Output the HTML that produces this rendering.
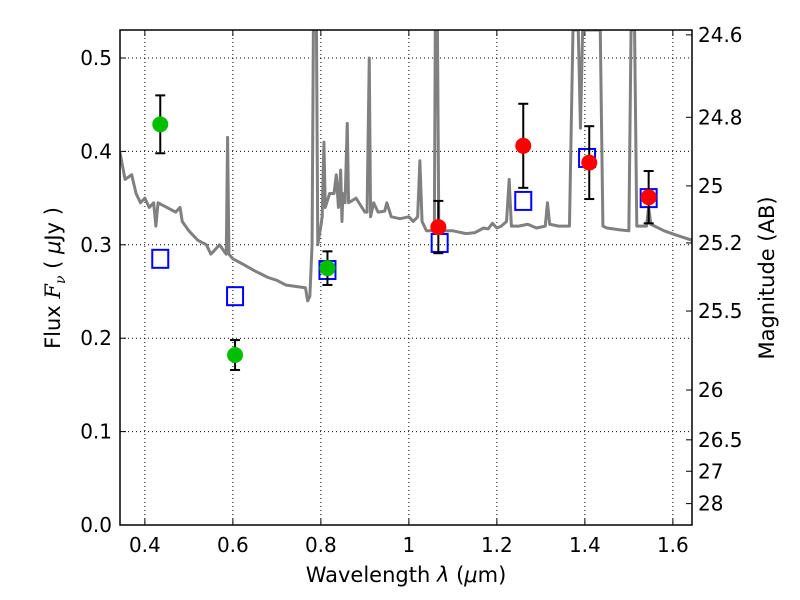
<!DOCTYPE html>
<html><head><meta charset="utf-8"><style>body{margin:0;background:#fff}svg{display:block;font-family:"DejaVu Sans","Liberation Sans",sans-serif}</style></head>
<body>
<svg id="c" width="800" height="600"></svg>
<script>
const specLam=[0.343,0.355,0.37,0.38,0.39,0.40,0.41,0.42,0.425,0.43,0.45,0.47,0.48,0.485,0.50,0.52,0.54,0.55,0.57,0.58,0.585,0.588,0.591,0.60,0.62,0.65,0.68,0.70,0.72,0.75,0.765,0.77,0.775,0.78,0.783,0.79,0.793,0.80,0.803,0.807,0.81,0.82,0.83,0.835,0.84,0.845,0.848,0.85,0.855,0.86,0.863,0.88,0.90,0.905,0.91,0.913,0.92,0.93,0.945,0.95,0.96,0.98,1.0,1.01,1.02,1.025,1.03,1.04,1.05,1.058,1.06,1.065,1.068,1.08,1.10,1.13,1.15,1.17,1.18,1.19,1.2,1.21,1.222,1.228,1.233,1.25,1.27,1.29,1.31,1.315,1.32,1.34,1.365,1.373,1.385,1.39,1.395,1.435,1.441,1.45,1.48,1.50,1.505,1.513,1.518,1.54,1.545,1.55,1.58,1.61,1.643];
const specFlux=[0.40,0.37,0.375,0.355,0.345,0.35,0.34,0.345,0.32,0.345,0.34,0.335,0.34,0.325,0.315,0.305,0.30,0.29,0.30,0.293,0.29,0.415,0.29,0.285,0.28,0.272,0.265,0.262,0.257,0.255,0.254,0.24,0.245,0.30,0.53,0.53,0.30,0.32,0.33,0.41,0.34,0.355,0.355,0.375,0.34,0.38,0.325,0.355,0.345,0.43,0.345,0.35,0.335,0.335,0.50,0.33,0.345,0.335,0.336,0.345,0.33,0.328,0.33,0.325,0.33,0.39,0.325,0.315,0.315,0.32,0.53,0.53,0.32,0.315,0.315,0.312,0.313,0.318,0.317,0.323,0.318,0.32,0.325,0.37,0.32,0.32,0.322,0.318,0.32,0.345,0.322,0.32,0.32,0.53,0.53,0.425,0.53,0.53,0.32,0.318,0.316,0.315,0.53,0.53,0.32,0.32,0.34,0.322,0.315,0.31,0.305];
const greenLam=[0.435,0.605,0.815], greenFlux=[0.429,0.182,0.275], greenErr=[0.031,0.016,0.018];
const redLam=[1.067,1.26,1.41,1.545], redFlux=[0.319,0.406,0.388,0.351], redErr=[0.028,0.045,0.039,0.028];
const sqLam=[0.435,0.605,0.815,1.07,1.26,1.405,1.545], sqFlux=[0.285,0.245,0.273,0.302,0.347,0.393,0.350];
const xTicks=[0.4,0.6,0.8,1.0,1.2,1.4,1.6], xLabels=["0.4","0.6","0.8","1","1.2","1.4","1.6"];
const yTicks=[0,0.1,0.2,0.3,0.4,0.5], yLabels=["0.0","0.1","0.2","0.3","0.4","0.5"];
const magTicks=[24.6,24.8,25,25.2,25.5,26,26.5,27,28];
const L=120,R=692,T=30,B=525,X0=0.3435,X1=1.6435,Y0=0,Y1=0.53;
const sx=v=>L+(v-X0)/(X1-X0)*(R-L), sy=v=>B-(v-Y0)/(Y1-Y0)*(B-T);
const svg=document.getElementById('c'),NS='http://www.w3.org/2000/svg';
function mk(t,a,p){const e=document.createElementNS(NS,t);for(const k in a)e.setAttribute(k,a[k]);(p||svg).appendChild(e);return e;}
mk('defs',{}).innerHTML='<clipPath id="cp"><rect x="120" y="30" width="572" height="495"/></clipPath>';
xTicks.forEach((v,i)=>{const x=sx(v);
 const g=mk('line',{x1:x,x2:x,y1:T,y2:B,stroke:'#000','stroke-dasharray':'1,3','stroke-width':1});
 mk('line',{x1:x,x2:x,y1:B,y2:B-6,stroke:'#000'});mk('line',{x1:x,x2:x,y1:T,y2:T+6,stroke:'#000'});
 const t=mk('text',{x:x,y:B+27,'font-size':20,'text-anchor':'middle'});t.textContent=xLabels[i];});
yTicks.forEach((v,i)=>{const y=sy(v);
 const g=mk('line',{x1:L,x2:R,y1:y,y2:y,stroke:'#000','stroke-dasharray':'1,3','stroke-width':1});
 mk('line',{x1:L,x2:L+6,y1:y,y2:y,stroke:'#000'});
 const t=mk('text',{x:L-8,y:y+7,'font-size':20,'text-anchor':'end'});t.textContent=yLabels[i];});
magTicks.forEach(m=>{const f=Math.pow(10,(23.9-m)/2.5);const y=sy(f);
 mk('line',{x1:R,x2:R-6,y1:y,y2:y,stroke:'#000'});
 const t=mk('text',{x:R+6,y:y+7,'font-size':20});t.textContent=String(m);});
const sp=mk('polyline',{points:specLam.map((l,i)=>sx(l)+','+sy(specFlux[i])).join(' '),fill:'none',stroke:'#808080','stroke-width':3,'stroke-linejoin':'round','clip-path':'url(#cp)'});

sqLam.forEach((l,i)=>{const r=mk('rect',{x:sx(l)-8,y:sy(sqFlux[i])-9,width:16,height:18,fill:'none',stroke:'#0000ff','stroke-width':2});});
function pts(lam,fl,er,col,name){lam.forEach((l,i)=>{const x=sx(l);
 mk('line',{x1:x,x2:x,y1:sy(fl[i]-er[i]),y2:sy(fl[i]+er[i]),stroke:'#000','stroke-width':2});
 [fl[i]-er[i],fl[i]+er[i]].forEach(v=>mk('line',{x1:x-5,x2:x+5,y1:sy(v),y2:sy(v),stroke:'#000','stroke-width':2}));
 const c=mk('circle',{cx:x,cy:sy(fl[i]),r:8,fill:col});});}
pts(greenLam,greenFlux,greenErr,'#00bf00','green-data-point');
pts(redLam,redFlux,redErr,'#ff0000','red-data-point');
const fr=mk('rect',{x:L,y:T,width:R-L,height:B-T,fill:'none',stroke:'#000','stroke-width':1.5});
let t=mk('text',{x:406,y:582,'font-size':21,'text-anchor':'middle'});t.innerHTML='Wavelength  <tspan font-style="italic">λ</tspan> (<tspan font-style="italic">μ</tspan>m)';
t=mk('text',{x:0,y:0,'font-size':21,'text-anchor':'middle',transform:'translate(60,278) rotate(-90)'});t.innerHTML='Flux  <tspan font-style="italic" font-family="DejaVu Serif">F</tspan><tspan font-style="italic" font-size="14" dy="5" font-family="DejaVu Serif">ν</tspan><tspan dy="-5">  (  </tspan><tspan font-style="italic">μ</tspan>Jy )';
t=mk('text',{x:0,y:0,'font-size':21,'text-anchor':'middle',transform:'translate(774,278) rotate(-90)'});t.textContent='Magnitude (AB)';
</script>
</body></html>
